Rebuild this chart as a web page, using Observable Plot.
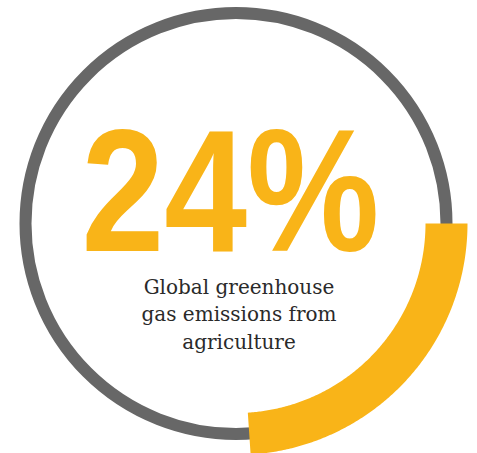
<!DOCTYPE html>
<html>
<head>
<meta charset="utf-8">
<script src="https://cdn.jsdelivr.net/npm/d3@7"></script>
<script src="https://cdn.jsdelivr.net/npm/@observablehq/plot@0.6"></script>
<style>
  html, body { margin: 0; padding: 0; background: #ffffff; }
  #chart svg { display: block; }
</style>
</head>
<body>
<div id="chart"></div>
<script>
// ---- data ----
const shareValue = [0.24];                 // share of global GHG emissions from agriculture
const shareLabel = ["24%"];
const captionLines = ["Global greenhouse", "gas emissions from", "agriculture"];

// ---- colours ----
const yellow = "#F9B418";
const grey = "#676767";
const textGrey = "#2a2a2a";

// ring geometry derived from the value
const R = 210.5;
const startDeg = 90;                       // arc begins at 3 o'clock
const share = shareValue[0];
const arcPts = d3.range(0, 201).map(i => {
  const deg = startDeg + (share * 360) * i / 200;
  const t = deg * Math.PI / 180;
  return {x: R * Math.sin(t), y: R * Math.cos(t)};
});

const chart = Plot.plot({
  width: 477,
  height: 453,
  margin: 0,
  style: {background: "#ffffff", overflow: "hidden"},
  x: {domain: [-235.5, 241.5], range: [0, 477], axis: null},
  y: {domain: [-230, 223], range: [453, 0], axis: null},
  marks: [
    // full grey track
    Plot.dot([{x: 0, y: 0}], {x: "x", y: "y", r: R, fill: "none", stroke: grey, strokeWidth: 12}),
    // yellow share arc
    Plot.line(arcPts, {x: "x", y: "y", stroke: yellow, strokeWidth: 42, strokeLinecap: "butt", curve: "linear"}),
    // big number
    Plot.text(shareLabel, {
      x: -5.5, y: -27, text: d => d,
      fontSize: 175, fontWeight: "bold", fontFamily: "Liberation Sans, Arial, sans-serif",
      fill: yellow, textAnchor: "middle", lineAnchor: "bottom"
    }),
    // caption
    Plot.text([captionLines.join("\n")], {
      x: 3, y: -125, text: d => d,
      fontSize: 20, fontFamily: "DejaVu Serif, Georgia, serif",
      fill: textGrey, textAnchor: "middle", lineAnchor: "bottom", lineHeight: 1.375
    })
  ]
});

// condense the big number to match the narrow display face
chart.querySelectorAll("text").forEach(t => {
  if (t.textContent === shareLabel[0]) {
    t.setAttribute("textLength", 298);
    t.setAttribute("lengthAdjust", "spacingAndGlyphs");
  }
});

document.getElementById("chart").appendChild(chart);
</script>
</body>
</html>
